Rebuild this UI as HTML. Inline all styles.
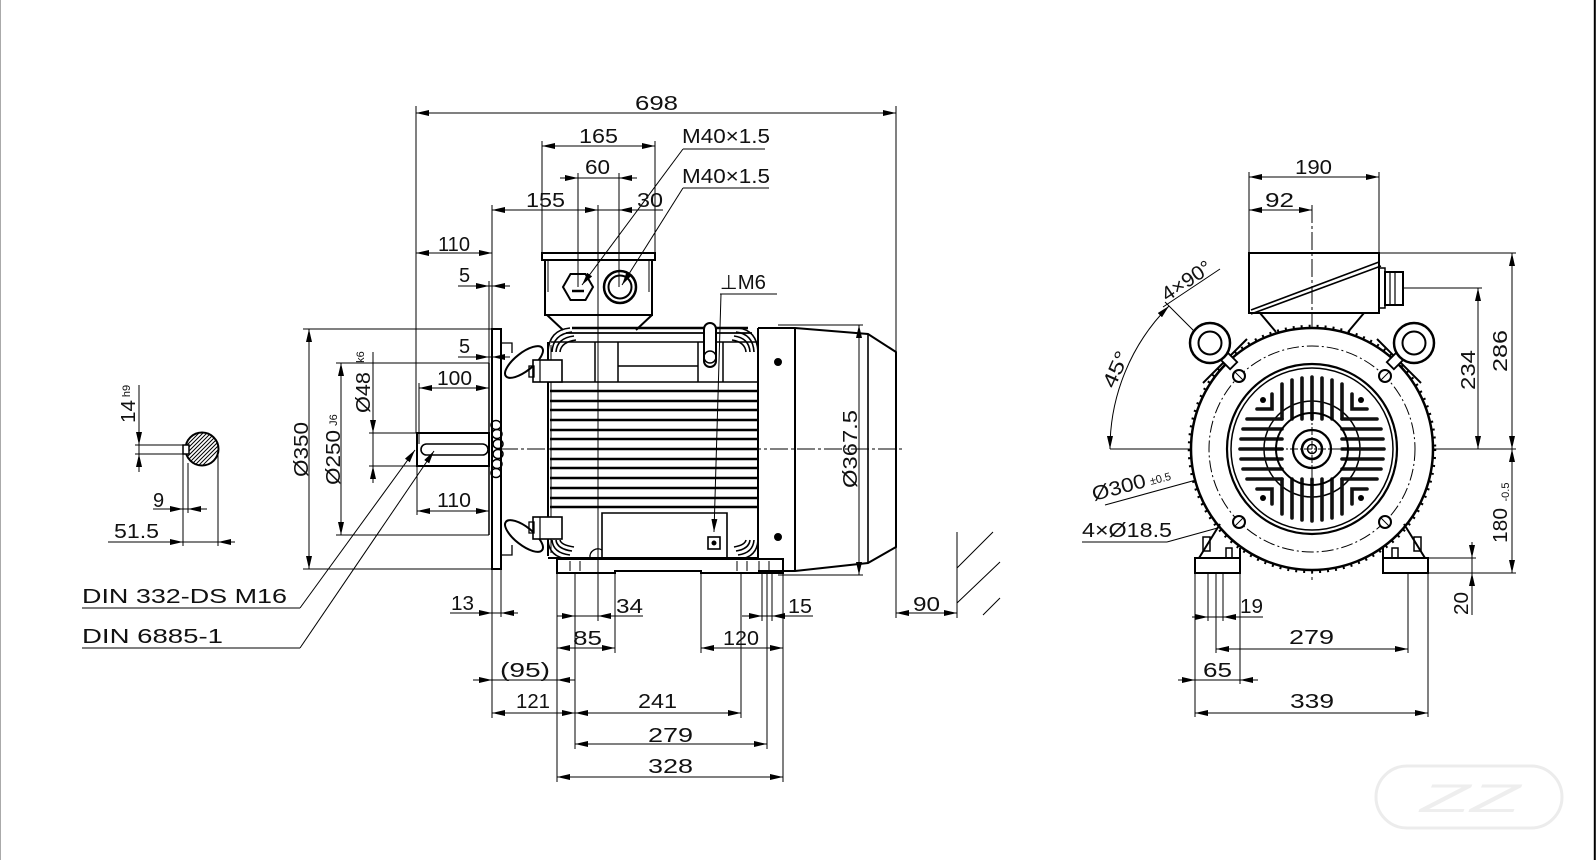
<!DOCTYPE html>
<html><head><meta charset="utf-8"><style>
html,body{margin:0;padding:0;background:#fff;}
svg{display:block}
text{font-family:"Liberation Sans","DejaVu Sans",sans-serif;font-size:20px;fill:#111}
.s{font-size:11px}
</style></head><body>
<svg width="1596" height="860" viewBox="0 0 1596 860" xmlns="http://www.w3.org/2000/svg">
<defs>
<marker id="a" viewBox="0 0 13 6" refX="13" refY="3" markerWidth="13" markerHeight="6" orient="auto-start-reverse" markerUnits="userSpaceOnUse"><path d="M0,0L13,3L0,6z" fill="#000"/></marker>
<clipPath id="cs"><circle cx="202" cy="449" r="16"/></clipPath>
</defs>

<!-- borders -->
<path d="M0.5,0V860" stroke="#aaa" stroke-width="1"/>
<path d="M1594.8,0V860" stroke="#000" stroke-width="2"/>

<g fill="none" stroke="#000" stroke-width="1">
<!-- double-arrow dims -->
<g marker-start="url(#a)" marker-end="url(#a)">
<path d="M416,113H896"/><path d="M542,146H655"/><path d="M492,210H598"/><path d="M416,253H492"/>
<path d="M309,329V569"/><path d="M341,363V535"/><path d="M419,388H489"/><path d="M417,511H489"/>
<path d="M557,648H615"/><path d="M701,648H783"/><path d="M492,713H575"/><path d="M575,713H741"/>
<path d="M575,744H767"/><path d="M557,777H783"/><path d="M896,613H957"/><path d="M859,325V575"/>
<path d="M1249,177H1379"/><path d="M1249,210H1312"/><path d="M1512,253V449"/><path d="M1478,288V449"/>
<path d="M1512,449V573"/><path d="M1216,649H1408"/><path d="M1195,713H1428"/>
<path d="M1110,449A202,202 0 0 1 1169,306"/>
<path d="M1218,474L1406,424"/>
</g>
<!-- single arrows -->
<g marker-end="url(#a)">
<path d="M565,178H578"/><path d="M632,178H619"/><path d="M636,210H619"/>
<path d="M476,286H489"/><path d="M505,286H492"/><path d="M476,357H489"/><path d="M505,357H492"/>
<path d="M373,420V433"/><path d="M373,479V466"/>
<path d="M479,613H492"/><path d="M514,613H501"/>
<path d="M139,432V445"/><path d="M139,467V454"/>
<path d="M170,509H183"/><path d="M201,509H188"/>
<path d="M170,542H183"/><path d="M231,542H218"/>
<path d="M562,616H575"/><path d="M611,616H598"/>
<path d="M749,616H762"/><path d="M785,616H772"/>
<path d="M479,680H492"/><path d="M570,680H557"/>
<path d="M1472,545V558"/><path d="M1472,586V573"/>
<path d="M1195,617H1208"/><path d="M1236,617H1223"/>
<path d="M1182,680H1195"/><path d="M1253,680H1240"/>
<path d="M300,608L415,450"/><path d="M300,648L434,451"/>
<path d="M683,149L582,285"/><path d="M683,188L622,285"/>
<path d="M721,294L714,532"/><path d="M1167,542L1232,524"/>
</g>
<!-- plain dim lines -->
<path d="M560,178H637M598,210H663M458,286H510M458,357H510M373,352V483M450,613H518M139,385V472M153,509H207M108,542H235M557,616H643M742,616H813M473,680H575M1472,542V615M1192,617H1263M1178,680H1258"/>
<!-- extension lines -->
<path d="M416,106V433M896,106V618M542,141V253M655,141V253M578,173V287M619,173V287M598,205V621M492,205V329M489,281V363M303,329H492M303,569H492M336,363H489M336,535H489M369,433H417M369,466H417M419,383V444M417,466V515M492,569V718M501,569V617M557,573V782M575,573V749M615,573V653M701,571V653M741,573V718M762,573V621M767,573V749M772,573V621M783,573V782M957,532V618M778,325H863M778,575H863M135,445H184M135,454H184M183,454V546M188,463V513M218,449V546"/>
<path d="M82,608H300M82,648H300M683,149H765M683,188H769M720,294H777"/>
<path d="M1249,172V253M1379,172V253M1379,253H1516M1428,573H1516M1404,288H1482M1428,558H1476M1110,449H1516M1195,573V717M1208,560V621M1216,560V653M1223,560V621M1240,573V684M1408,560V653M1428,573V717M1082,542H1167M1105,505L1218,474M1163,307L1220,269M1239,376L1165,302"/>
<path d="M957,568L993,532M957,603L1000,562M983,615L1000,598"/>
<path d="M500,449H902" stroke-dasharray="18 3 3 3"/>
<path d="M1312,205V580" stroke-dasharray="18 3 3 3"/>
</g>

<!-- shaft section -->
<g fill="none" stroke="#000">
<g clip-path="url(#cs)" stroke-width="1">
<path d="M170,470L212,428M174,470L216,428M178,470L220,428M182,470L224,428M186,470L228,428M190,470L232,428M194,470L236,428M198,470L240,428M166,470L208,428M162,470L204,428"/>
</g>
<circle cx="202" cy="449" r="16.5" stroke-width="2"/>
<rect x="183" y="445" width="6" height="9" stroke-width="1.5" fill="#fff"/>
</g>

<!-- side view body -->
<g fill="none" stroke="#000">
<rect x="492" y="329" width="9" height="240" stroke-width="2"/>
<rect x="417" y="433" width="72" height="33" stroke-width="2"/>
<rect x="421" y="444" width="67" height="11" rx="5.5" stroke-width="1.6"/>
<path d="M489,363V535" stroke-width="1.5"/>
<g stroke-width="1.5">
<ellipse cx="496" cy="425" rx="5" ry="4.5"/><ellipse cx="497" cy="434" rx="5" ry="4.5"/><ellipse cx="498" cy="444" rx="5" ry="4.5"/><ellipse cx="498" cy="454" rx="5" ry="4.5"/><ellipse cx="497" cy="464" rx="5" ry="4.5"/><ellipse cx="496" cy="473" rx="5" ry="4.5"/>
</g>
<!-- frame -->
<path d="M548,342V556" stroke-width="2"/>
<path d="M551,345V553" stroke-width="1"/>
<path d="M572,328H748" stroke-width="2.6"/>
<path d="M566,333H752" stroke-width="1.8"/>
<path d="M551,342H758" stroke-width="1.5"/>
<path d="M548,382H758" stroke-width="1.5"/>
<g stroke-width="2.6">
<path d="M550,391H758M550,401H758M550,410H758M550,420H758M550,430H758M550,439H758M550,449H758M550,459H758M550,468H758M550,478H758M550,488H758M550,498H758M550,507H758"/>
</g>
<g stroke-width="1.6">
<path d="M548,352Q549,330 570,328M552,352Q553,334 572,332M556,352Q557,338 574,336M560,352Q561,342 576,340"/>
<path d="M548,540Q549,557 568,559M552,540Q553,553 570,555M556,540Q557,549 572,551M560,540Q561,545 574,547"/>
<path d="M758,352Q757,330 738,328M754,352Q753,334 736,332M750,352Q749,338 734,336M746,352Q745,342 732,340"/>
<path d="M758,540Q757,557 740,559M754,540Q753,553 738,555M750,540Q749,549 736,551M746,540Q745,545 734,547"/>
</g>
<path d="M548,558H758" stroke-width="2"/>
<path d="M758,328V559" stroke-width="2"/>
<path d="M595,342V382M618,342V382M618,366H698M698,342V382M723,342V382" stroke-width="1.5"/>
<rect x="704" y="323" width="12" height="44" rx="6" stroke-width="2" fill="#fff"/>
<circle cx="710" cy="357" r="6" stroke-width="1.5"/>
<path d="M602,558V513H727V558" stroke-width="1.6"/>
<rect x="708" y="537" width="12" height="12" stroke-width="1.6"/>
<circle cx="714" cy="543" r="2" fill="#000"/>
<path d="M590,558A8,8 0 0 1 602,550" stroke-width="1.3"/>
<!-- lugs -->
<ellipse cx="524" cy="362" rx="23" ry="9" transform="rotate(-38 524 362)" stroke-width="2"/>
<ellipse cx="524" cy="536" rx="23" ry="9" transform="rotate(38 524 536)" stroke-width="2"/>
<rect x="533" y="360" width="29" height="22" stroke-width="1.6" fill="#fff"/>
<rect x="533" y="517" width="29" height="22" stroke-width="1.6" fill="#fff"/>
<path d="M540,360V382M540,517V539" stroke-width="1.2"/>
<rect x="529" y="366" width="5" height="11" stroke-width="1.3"/>
<rect x="529" y="522" width="5" height="11" stroke-width="1.3"/>
<path d="M501,343H512V353M501,555H512V545" stroke-width="1.3"/>
<!-- foot -->
<path d="M557,559H783V573H701V571H615V573H557Z" stroke-width="2"/>
<path d="M570,561V571M580,561V571M737,561V571M747,561V571M759,561V571M769,561V571" stroke-width="1"/>
<!-- fan cover -->
<path d="M758,328H795L868,334L896,352V547L868,563L795,571H758" stroke-width="2"/>
<path d="M795,328V571" stroke-width="2"/>
<path d="M868,334V563" stroke-width="1.6"/>
<circle cx="778" cy="362" r="3.5" fill="#000"/>
<circle cx="778" cy="537" r="3.5" fill="#000"/>
<!-- terminal box side -->
<rect x="542" y="253" width="113" height="7" stroke-width="2"/>
<path d="M545,260V315H652V260" stroke-width="2"/>
<path d="M548,260V292M649,260V292" stroke-width="1"/>
<path d="M547,315L563,330M652,315L636,330" stroke-width="2"/>
<polygon points="593,287 585.5,300 570.5,300 563,287 570.5,274 585.5,274" stroke-width="2"/>
<path d="M572,291H584" stroke-width="2.5"/>
<circle cx="620" cy="287" r="16" stroke-width="2.5"/>
<circle cx="620" cy="287" r="11.5" stroke-width="2"/>
</g>

<!-- end view -->
<g fill="none" stroke="#000">
<rect x="1249" y="253" width="130" height="60" stroke-width="2"/>
<path d="M1251,310L1379,262M1251,314L1381,266" stroke-width="1.6"/>
<rect x="1379" y="268" width="6" height="40" stroke-width="1.5"/>
<rect x="1385" y="272" width="18" height="33" stroke-width="2"/>
<path d="M1390,272V305M1395,272V305" stroke-width="1.2"/>
<path d="M1260,313L1276,332M1364,313L1348,332" stroke-width="2"/>
<circle cx="1312" cy="449" r="123" stroke-width="2.5" stroke-dasharray="2 6"/>
<circle cx="1312" cy="449" r="121" stroke-width="2.5" fill="#fff"/>
<path d="M1203,383L1247,339M1421,383L1377,339" stroke-width="2"/>
<rect x="1223" y="352" width="10" height="16" transform="rotate(-45 1228 360)" stroke-width="1.8" fill="#fff"/>
<rect x="1391" y="352" width="10" height="16" transform="rotate(45 1396 360)" stroke-width="1.8" fill="#fff"/>
<circle cx="1210" cy="343" r="20" stroke-width="2.5" fill="#fff"/>
<circle cx="1210" cy="343" r="11.5" stroke-width="2"/>
<circle cx="1414" cy="343" r="20" stroke-width="2.5" fill="#fff"/>
<circle cx="1414" cy="343" r="11.5" stroke-width="2"/>
<circle cx="1312" cy="449" r="103" stroke-width="1" stroke-dasharray="12 3 2 3"/>
<circle cx="1312" cy="449" r="85" stroke-width="2.2"/>
<circle cx="1312" cy="449" r="81" stroke-width="1.5"/>
<circle cx="1312" cy="449" r="48" stroke-width="1.5"/>
<g stroke="#111" stroke-width="3.6" stroke-linecap="round">
<path d="M1312,377V419M1302,378V419M1322,378V419M1292,380V419M1332,380V419M1282,384V419M1342,384V419"/>
<path d="M1312,521V479M1302,520V479M1322,520V479M1292,518V479M1332,518V479M1282,514V479M1342,514V479"/>
<path d="M1240,449H1282M1241,439H1282M1241,459H1282M1243,429H1282M1243,469H1282M1247,419H1282M1247,479H1282"/>
<path d="M1384,449H1342M1383,439H1342M1383,459H1342M1381,429H1342M1381,469H1342M1377,419H1342M1377,479H1342"/>
<path d="M1272,394V409H1257M1352,394V409H1367M1272,504V489H1257M1352,504V489H1367"/>
</g>
<g fill="#000" stroke="none">
<circle cx="1263" cy="400" r="3"/><circle cx="1361" cy="400" r="3"/><circle cx="1263" cy="498" r="3"/><circle cx="1361" cy="498" r="3"/>
</g>
<circle cx="1312" cy="449" r="36" stroke-width="2"/>
<circle cx="1312" cy="449" r="19" stroke-width="2.2" fill="#fff"/>
<circle cx="1312" cy="449" r="10" stroke-width="2.5"/>
<circle cx="1312" cy="449" r="4.5" stroke-width="1.5"/>
<path d="M1276,449H1348M1312,413V485" stroke-width="1" stroke-dasharray="8 2 2 2"/>
<g stroke-width="2" fill="#fff">
<circle cx="1239" cy="376" r="6"/><circle cx="1385" cy="376" r="6"/><circle cx="1239" cy="522" r="6"/><circle cx="1385" cy="522" r="6"/>
</g>
<path d="M1235,372L1243,380M1381,380L1389,372M1235,526L1243,518M1381,518L1389,526" stroke-width="1"/>
<!-- feet -->
<rect x="1195" y="558" width="45" height="15" stroke-width="2" fill="#fff"/>
<rect x="1383" y="558" width="45" height="15" stroke-width="2" fill="#fff"/>
<path d="M1199,558L1220,524M1240,558V548M1425,558L1404,524M1383,558V548" stroke-width="2"/>
<rect x="1203" y="537" width="7" height="14" stroke-width="1.5"/>
<rect x="1226" y="548" width="6" height="10" stroke-width="1.5"/>
<rect x="1414" y="537" width="7" height="14" stroke-width="1.5"/>
<rect x="1392" y="548" width="6" height="10" stroke-width="1.5"/>
</g>

<!-- watermark -->
<rect x="1376" y="766" width="186" height="62" rx="31" fill="none" stroke="#ececec" stroke-width="3"/>
<text x="1420" y="812" style="font-size:40px;fill:#eee;font-style:italic" textLength="100" lengthAdjust="spacingAndGlyphs">ZZ</text>

<!-- texts -->
<g>
<text x="635" y="110" textLength="43" lengthAdjust="spacingAndGlyphs">698</text>
<text x="579" y="143" textLength="39" lengthAdjust="spacingAndGlyphs">165</text>
<text x="585" y="174" textLength="25" lengthAdjust="spacingAndGlyphs">60</text>
<text x="526" y="207" textLength="39" lengthAdjust="spacingAndGlyphs">155</text>
<text x="637" y="207" textLength="26" lengthAdjust="spacingAndGlyphs">30</text>
<text x="682" y="143" textLength="88" lengthAdjust="spacingAndGlyphs">M40×1.5</text>
<text x="682" y="183" textLength="88" lengthAdjust="spacingAndGlyphs">M40×1.5</text>
<text x="438" y="251" textLength="32" lengthAdjust="spacingAndGlyphs">110</text>
<text x="459" y="282">5</text>
<text x="720" y="289" textLength="46" lengthAdjust="spacingAndGlyphs">⊥M6</text>
<text x="459" y="353">5</text>
<text x="437" y="385" textLength="35" lengthAdjust="spacingAndGlyphs">100</text>
<text x="437" y="507" textLength="34" lengthAdjust="spacingAndGlyphs">110</text>
<text x="451" y="610" textLength="23" lengthAdjust="spacingAndGlyphs">13</text>
<text x="82" y="603" textLength="205" lengthAdjust="spacingAndGlyphs">DIN 332-DS M16</text>
<text x="82" y="643" textLength="141" lengthAdjust="spacingAndGlyphs">DIN 6885-1</text>
<text x="153" y="507">9</text>
<text x="114" y="538" textLength="45" lengthAdjust="spacingAndGlyphs">51.5</text>
<text x="616" y="613" textLength="27" lengthAdjust="spacingAndGlyphs">34</text>
<text x="573" y="645" textLength="29" lengthAdjust="spacingAndGlyphs">85</text>
<text x="723" y="645" textLength="36" lengthAdjust="spacingAndGlyphs">120</text>
<text x="788" y="613" textLength="24" lengthAdjust="spacingAndGlyphs">15</text>
<text x="500" y="677" textLength="50" lengthAdjust="spacingAndGlyphs">(95)</text>
<text x="516" y="708" textLength="34" lengthAdjust="spacingAndGlyphs">121</text>
<text x="638" y="708" textLength="39" lengthAdjust="spacingAndGlyphs">241</text>
<text x="648" y="742" textLength="45" lengthAdjust="spacingAndGlyphs">279</text>
<text x="648" y="773" textLength="45" lengthAdjust="spacingAndGlyphs">328</text>
<text x="913" y="611" textLength="27" lengthAdjust="spacingAndGlyphs">90</text>

<text x="308" y="449.5" text-anchor="middle" transform="rotate(-90 308 449.5)" textLength="55" lengthAdjust="spacingAndGlyphs">Ø350</text>
<text x="340" y="457.5" text-anchor="middle" transform="rotate(-90 340 457.5)" textLength="55" lengthAdjust="spacingAndGlyphs">Ø250</text>
<text class="s" x="337" y="420" text-anchor="middle" transform="rotate(-90 337 420)">J6</text>
<text x="370" y="392.5" text-anchor="middle" transform="rotate(-90 370 392.5)" textLength="41" lengthAdjust="spacingAndGlyphs">Ø48</text>
<text class="s" x="364" y="357" text-anchor="middle" transform="rotate(-90 364 357)">k6</text>
<text x="857" y="449" text-anchor="middle" transform="rotate(-90 857 449)" textLength="78" lengthAdjust="spacingAndGlyphs">Ø367.5</text>
<text x="135" y="411.5" text-anchor="middle" transform="rotate(-90 135 411.5)" textLength="23" lengthAdjust="spacingAndGlyphs">14</text>
<text class="s" x="130" y="391" text-anchor="middle" transform="rotate(-90 130 391)">h9</text>

<text x="1295" y="174" textLength="37" lengthAdjust="spacingAndGlyphs">190</text>
<text x="1265" y="207" textLength="29" lengthAdjust="spacingAndGlyphs">92</text>
<text x="1507" y="351" text-anchor="middle" transform="rotate(-90 1507 351)" textLength="42" lengthAdjust="spacingAndGlyphs">286</text>
<text x="1475" y="370" text-anchor="middle" transform="rotate(-90 1475 370)" textLength="40" lengthAdjust="spacingAndGlyphs">234</text>
<text x="1507" y="525.5" text-anchor="middle" transform="rotate(-90 1507 525.5)" textLength="35" lengthAdjust="spacingAndGlyphs">180</text>
<text class="s" x="1509" y="492" text-anchor="middle" transform="rotate(-90 1509 492)">-0.5</text>
<text x="1468" y="603.5" text-anchor="middle" transform="rotate(-90 1468 603.5)" textLength="23" lengthAdjust="spacingAndGlyphs">20</text>
<text x="1240" y="613" textLength="23" lengthAdjust="spacingAndGlyphs">19</text>
<text x="1289" y="644" textLength="45" lengthAdjust="spacingAndGlyphs">279</text>
<text x="1203" y="677" textLength="29" lengthAdjust="spacingAndGlyphs">65</text>
<text x="1290" y="708" textLength="44" lengthAdjust="spacingAndGlyphs">339</text>
<text x="1082" y="537" textLength="90" lengthAdjust="spacingAndGlyphs">4×Ø18.5</text>
<text x="1094" y="501" transform="rotate(-15 1094 501)" textLength="55" lengthAdjust="spacingAndGlyphs">Ø300</text>
<text class="s" x="1151" y="485" transform="rotate(-15 1151 485)">±0.5</text>
<text x="1122" y="372" text-anchor="middle" transform="rotate(-66 1122 372)" textLength="38" lengthAdjust="spacingAndGlyphs">45°</text>
<text x="1167" y="302" transform="rotate(-34 1167 302)" textLength="56" lengthAdjust="spacingAndGlyphs">4×90°</text>
</g>
</svg>
</body></html>
